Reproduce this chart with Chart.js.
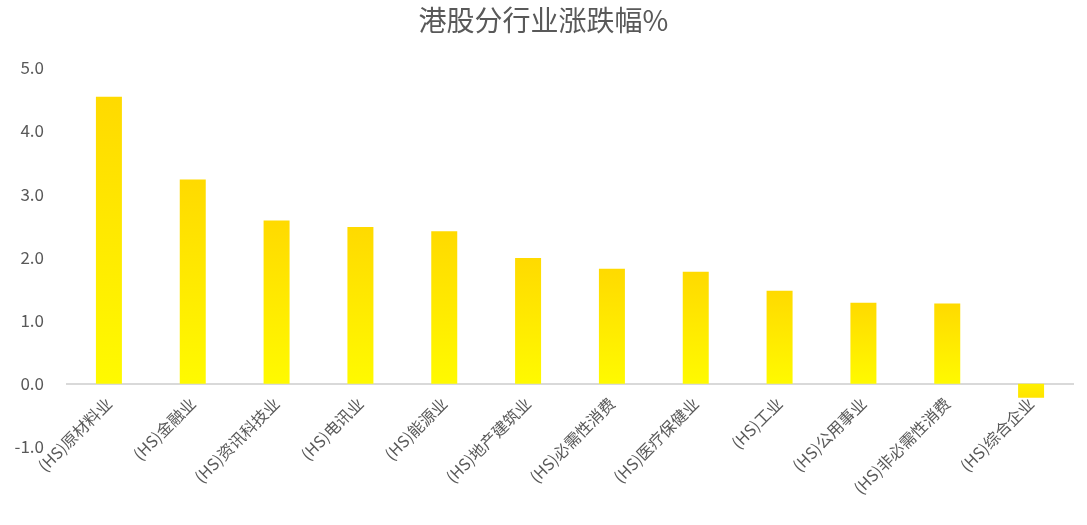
<!DOCTYPE html>
<html>
<head>
<meta charset="utf-8">
<script src="https://cdn.jsdelivr.net/npm/chart.js@4/dist/chart.umd.min.js"></script>
<style>
  html, body { margin: 0; padding: 0; background: #ffffff; }
  #wrap { width: 1087px; height: 525px; position: relative; }
</style>
</head>
<body>
<div id="wrap"><canvas id="c" width="1087" height="525"></canvas></div>
<script>
const titleText = '港股分行业涨跌幅%';
const categories = ['(HS)原材料业','(HS)金融业','(HS)资讯科技业','(HS)电讯业','(HS)能源业','(HS)地产建筑业','(HS)必需性消费','(HS)医疗保健业','(HS)工业','(HS)公用事业','(HS)非必需性消费','(HS)综合企业'];
const changePct = [4.54, 3.23, 2.58, 2.48, 2.41, 1.99, 1.82, 1.77, 1.47, 1.28, 1.27, -0.22];
const yMin = -1.0;
const yMax = 5.0;
const yStep = 1.0;

const FONT = '"Noto Sans CJK SC", "Microsoft YaHei", sans-serif';
const TEXT = '#595959';

function barGradient(ctx) {
  const chart = ctx.chart;
  const area = chart.chartArea;
  if (!area || ctx.type !== 'data') return '#FFE600';
  const ys = chart.scales.y;
  const v = ctx.parsed ? ctx.parsed.y : changePct[ctx.dataIndex];
  const yTop = ys.getPixelForValue(Math.max(v, 0));
  const yBot = ys.getPixelForValue(Math.min(v, 0));
  if (!isFinite(yTop) || !isFinite(yBot) || yTop === yBot) return '#FFE600';
  const g = chart.ctx.createLinearGradient(0, yTop, 0, yBot);
  if (v >= 0) {
    g.addColorStop(0, '#FFDA00');
    g.addColorStop(1, '#FFFA00');
  } else {
    g.addColorStop(0, '#FFF000');
    g.addColorStop(1, '#FFE400');
  }
  return g;
}

new Chart(document.getElementById('c'), {
  type: 'bar',
  data: {
    labels: categories,
    datasets: [{
      data: changePct,
      backgroundColor: barGradient,
      borderWidth: 0,
      barPercentage: 0.31,
      categoryPercentage: 1.0
    }]
  },
  options: {
    responsive: false,
    animation: false,
    layout: { padding: { left: 0, right: 0, top: 0, bottom: 78 } },
    plugins: {
      legend: { display: false },
      tooltip: { enabled: false },
      title: {
        display: true,
        text: titleText,
        color: TEXT,
        font: { family: FONT, size: 28, weight: 'normal' },
        padding: { top: 4, bottom: 30 }
      }
    },
    scales: {
      x: {
        type: 'category',
        position: { y: 0 },
        grid: { display: false, drawTicks: false },
        border: { display: true, color: '#D9D9D9', width: 2 },
        ticks: {
          autoSkip: false,
          minRotation: 45,
          maxRotation: 45,
          padding: 10,
          color: TEXT,
          font: { family: FONT, size: 16 }
        }
      },
      y: {
        min: yMin,
        max: yMax,
        grid: { display: false, drawTicks: false },
        border: { display: false },
        afterFit: (s) => { s.width = 67; },
        ticks: {
          stepSize: yStep,
          padding: 23,
          color: TEXT,
          font: { family: FONT, size: 17 },
          callback: (v) => Number(v).toFixed(1)
        }
      },
      yRight: {
        position: 'right',
        min: yMin,
        max: yMax,
        grid: { display: false, drawTicks: false },
        border: { display: false },
        ticks: { display: false },
        afterFit: (s) => { s.width = 14; }
      }
    }
  }
});
</script>
</body>
</html>
